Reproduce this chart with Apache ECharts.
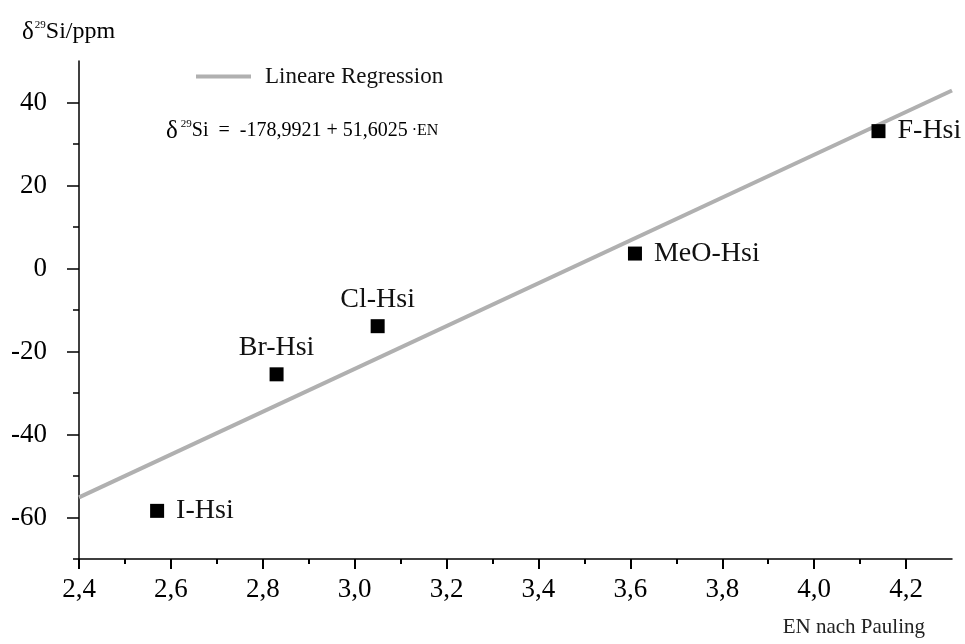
<!DOCTYPE html>
<html>
<head>
<meta charset="utf-8">
<title>δ29Si vs. EN</title>
<script src="https://cdn.jsdelivr.net/npm/echarts@6/dist/echarts.min.js"></script>
<style>
  html, body { margin: 0; padding: 0; background: #fff; }
  #chart { width: 965px; height: 644px; }
</style>
</head>
<body>
<div id="chart"></div>
<script>
// Substituents and their measured values
const compounds = ['I-Hsi', 'Br-Hsi', 'Cl-Hsi', 'MeO-Hsi', 'F-Hsi'];
const enPauling = [2.57, 2.83, 3.05, 3.61, 4.14];
const shiftPpm = [-58.4, -25.5, -13.9, 3.6, 33.1];
const labelSide = ['right', 'top', 'top', 'right', 'right'];

// Linear regression: δ29Si = a + b · EN
const regIntercept = -178.9921;
const regSlope = 51.6025;

// Axis ranges and ticks
const xRange = [2.4, 4.3];
const yRange = [-70, 50];
const xTicks = [2.4, 2.6, 2.8, 3.0, 3.2, 3.4, 3.6, 3.8, 4.0, 4.2];
const xMinorTicks = [2.5, 2.7, 2.9, 3.1, 3.3, 3.5, 3.7, 3.9, 4.1];
const yTicks = [-60, -40, -20, 0, 20, 40];
const yMinorTicks = [-70, -50, -30, -10, 10, 30];

const FONT = '"Liberation Serif", "Times New Roman", serif';

const regLine = xRange.map(x => [x, regIntercept + regSlope * x]);
const points = enPauling.map((x, i) => ({
  name: compounds[i],
  value: [x, shiftPpm[i]],
  label: { position: labelSide[i], distance: labelSide[i] === 'top' ? 6 : 12 }
}));

const fmtComma = v => (Math.round(v * 10) / 10).toFixed(1).replace('.', ',');

const chart = echarts.init(document.getElementById('chart'), null, { renderer: 'canvas' });

chart.setOption({
  backgroundColor: '#ffffff',
  animation: false,
  textStyle: { fontFamily: FONT },
  grid: { left: 79, right: 13, top: 61, bottom: 85, containLabel: false },
  legend: {
    left: 196,
    top: 65,
    padding: 0,
    icon: 'rect',
    itemWidth: 55,
    itemHeight: 4,
    selectedMode: false,
    data: ['Lineare Regression'],
    textStyle: { fontFamily: FONT, fontSize: 23, color: '#111', padding: [0, 0, 0, 9] }
  },
  xAxis: [
    {
      type: 'value',
      min: xRange[0],
      max: xRange[1],
      axisLine: { show: true, onZero: false, lineStyle: { color: '#000', width: 1.5 } },
      axisTick: { show: true, customValues: xTicks, length: 10, lineStyle: { color: '#000', width: 2 } },
      axisLabel: {
        customValues: xTicks,
        formatter: fmtComma,
        margin: 17,
        fontFamily: FONT,
        fontSize: 27,
        color: '#000'
      },
      splitLine: { show: false }
    },
    {
      type: 'value',
      position: 'bottom',
      min: xRange[0],
      max: xRange[1],
      axisLine: { show: false, onZero: false },
      axisTick: { show: true, customValues: xMinorTicks, length: 5, lineStyle: { color: '#000', width: 2 } },
      axisLabel: { show: false },
      splitLine: { show: false }
    }
  ],
  yAxis: [
    {
      type: 'value',
      min: yRange[0],
      max: yRange[1],
      axisLine: { show: true, onZero: false, lineStyle: { color: '#000', width: 1.5 } },
      axisTick: { show: true, customValues: yTicks, length: 12, lineStyle: { color: '#000', width: 1.5 } },
      axisLabel: {
        customValues: yTicks,
        formatter: v => String(v),
        margin: 32,
        fontFamily: FONT,
        fontSize: 27,
        color: '#000'
      },
      splitLine: { show: false }
    },
    {
      type: 'value',
      position: 'left',
      min: yRange[0],
      max: yRange[1],
      axisLine: { show: false, onZero: false },
      axisTick: { show: true, customValues: yMinorTicks, length: 6, lineStyle: { color: '#000', width: 1.5 } },
      axisLabel: { show: false },
      splitLine: { show: false }
    }
  ],
  series: [
    {
      name: 'Lineare Regression',
      type: 'line',
      data: regLine,
      showSymbol: false,
      symbol: 'none',
      itemStyle: { color: '#b0b0b0' },
      lineStyle: { color: '#b0b0b0', width: 4 },
      z: 1,
      silent: true
    },
    {
      name: 'Messwerte',
      type: 'scatter',
      data: points,
      symbol: 'rect',
      symbolSize: 14,
      itemStyle: { color: '#000', opacity: 1 },
      label: {
        show: true,
        formatter: p => p.name,
        fontFamily: FONT,
        fontSize: 28,
        color: '#111',
        opacity: 1
      },
      emphasis: { disabled: true },
      z: 3
    }
  ],
  graphic: [
    {
      type: 'text',
      left: 22,
      top: 18,
      style: {
        text: '{d|δ}{s|29}{t|Si/ppm}',
        rich: {
          d: { fontFamily: FONT, fontSize: 25, color: '#111', lineHeight: 28 },
          s: { fontFamily: FONT, fontSize: 11, color: '#111', verticalAlign: 'top', lineHeight: 14, padding: [2, 0, 0, 1] },
          t: { fontFamily: FONT, fontSize: 24, color: '#111', lineHeight: 28 }
        }
      }
    },
    {
      type: 'text',
      left: 166,
      top: 117,
      style: {
        text: '{d|δ}{s|29}{t|Si  =  -178,9921 + 51,6025}{e| ·EN}',
        rich: {
          d: { fontFamily: FONT, fontSize: 25, color: '#111', lineHeight: 28 },
          s: { fontFamily: FONT, fontSize: 11, color: '#111', verticalAlign: 'top', lineHeight: 14, padding: [2, 0, 0, 3] },
          t: { fontFamily: FONT, fontSize: 20, color: '#111', lineHeight: 28 },
          e: { fontFamily: FONT, fontSize: 16, color: '#111', lineHeight: 28 }
        }
      }
    },
    {
      type: 'text',
      right: 40,
      top: 617,
      style: {
        text: 'EN nach Pauling',
        fontFamily: FONT,
        fontSize: 21,
        fill: '#222'
      }
    }
  ]
});
</script>
</body>
</html>
